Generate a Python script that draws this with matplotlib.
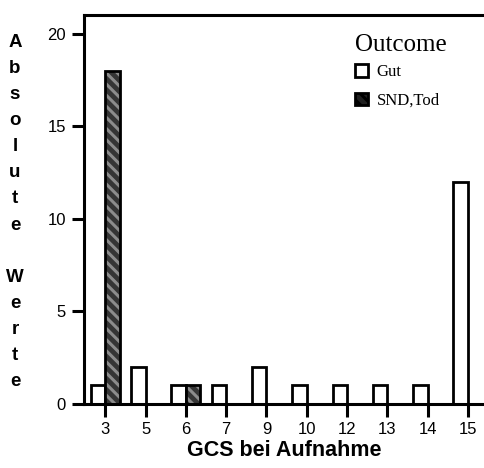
import matplotlib.pyplot as plt
import numpy as np

# GCS-Werte bei Aufnahme und Anzahl je Outcome
gcs = ['3', '5', '6', '7', '9', '10', '12', '13', '14', '15']
gut = [1, 2, 1, 1, 2, 1, 1, 1, 1, 12]
snd_tod = [18, 0, 1, 0, 0, 0, 0, 0, 0, 0]

plt.rcParams['font.family'] = 'Liberation Sans'
plt.rcParams['hatch.linewidth'] = 2.2

fig = plt.figure(figsize=(4.84, 4.68), dpi=100)
ax = fig.add_axes([84 / 484, 64 / 468, 400 / 484, 389 / 468])

pos = np.arange(len(gcs))
w = 0.36

# Gut: weisse Balken links vom Tick
ax.bar(pos - w / 2, gut, w, color='white', edgecolor='black', linewidth=2, zorder=2)
# SND,Tod: dunkel, schraffiert, rechts vom Tick
ax.bar(pos + w / 2, snd_tod, w, color='#353535', edgecolor='#8c8c8c', linewidth=0,
       hatch='\\\\\\', zorder=2)
ax.bar(pos + w / 2, snd_tod, w, fill=False, edgecolor='black', linewidth=2, zorder=3)

ax.set_xlim(-0.53, 9.4)
ax.set_ylim(0, 21)
ax.set_yticks([0, 5, 10, 15, 20])
ax.set_xticks(pos)
ax.set_xticklabels(gcs)

for s in ['left', 'top', 'bottom']:
    ax.spines[s].set_linewidth(2.2)
ax.spines['right'].set_visible(False)
ax.spines['bottom'].set_zorder(4)
ax.tick_params(width=2.2, length=9, labelsize=12, pad=4)

ax.set_xlabel('GCS bei Aufnahme', fontsize=15.5, fontweight='bold', labelpad=2)

# senkrecht gestapelte Buchstaben als y-Beschriftung
ylab = '\n'.join(list('Absolute') + [' '] + list('Werte'))
fig.text(15 / 484, 1 - 212 / 468, ylab, fontsize=13.5, fontweight='bold', ha='center',
         va='center', linespacing=1.7)

# Legende: Titel separat, darunter die beiden Eintraege
fig.text(401 / 484, 1 - 45 / 468, 'Outcome', family='Liberation Serif', fontsize=18,
         ha='center', va='center')
h1 = plt.Rectangle((0, 0), 1, 1, facecolor='white', edgecolor='black', linewidth=2)
h2 = plt.Rectangle((0, 0), 1, 1, facecolor='#202020', edgecolor='black', linewidth=2,
                   hatch='\\\\\\')
leg = ax.legend([h1, h2], ['Gut', 'SND,Tod'], frameon=False,
                loc='upper left', bbox_to_anchor=(340 / 484, 1 - 49 / 468),
                bbox_transform=fig.transFigure,
                prop={'family': 'Liberation Serif', 'size': 12},
                handlelength=0.8, handleheight=0.8, handletextpad=0.5, labelspacing=0.75)

fig.savefig('out.png', dpi=100)
